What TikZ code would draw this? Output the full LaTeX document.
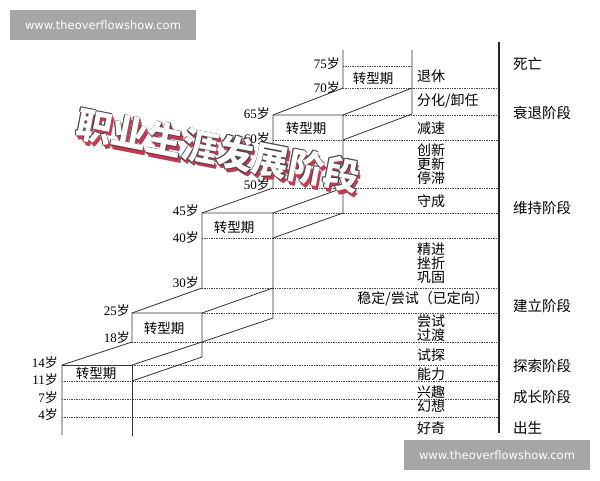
\documentclass[tikz,border=0pt]{standalone}
\usepackage{fontspec}
\setmainfont{Liberation Serif}
\newfontfamily\cjk{Noto Sans CJK SC}
\newfontfamily\wmfont{DejaVu Sans}
\newcommand{\sui}[1]{#1{\cjk 岁}}
\definecolor{rose}{HTML}{C8374F}
\definecolor{rim}{HTML}{4A4A4A}

\begin{document}
\begin{tikzpicture}[x=1pt,y=-1pt]
\tikzset{ line/.style={black!80, line width=0.8pt}, lvl/.style={black!70, densely dotted, line width=0.7pt},
  age/.style={anchor=east, inner sep=0pt, font=\fontsize{13}{13}\selectfont},
  box/.style={inner sep=0pt, font=\cjk\fontsize{13.5}{13.5}\selectfont},
  word/.style={anchor=west, inner sep=0pt, align=center, font=\cjk\fontsize{14}{14}\selectfont},
  stage/.style={anchor=west, inner sep=0pt, font=\cjk\fontsize{14.5}{14.5}\selectfont},
  title/.style={rotate=-11, inner sep=0pt, font=\cjk\bfseries\fontsize{36}{36}\selectfont},
  wm/.style={fill=black!35, text=white, minimum width=186pt, minimum height=30pt, inner sep=0pt, font=\wmfont\fontsize{11.5}{11.5}\selectfont} }

\useasboundingbox (0,0) rectangle (600,480);

%\draw [lightgray, dashed](0,0) grid[step=20] (600,480);

% left edge of the stairs
\coordinate (L0) at (62,435);
\coordinate (L1) at (62,365);
\coordinate (L2) at (132,342);
\coordinate (L3) at (132,313);
\coordinate (L4) at (202,288);
\coordinate (L5) at (202,213);
\coordinate (L6) at (273,188);
\coordinate (L7) at (273,115);
\coordinate (L8) at (343,88);
\coordinate (L9) at (343,50);

% right corners of the fronts
\coordinate (R1) at (132,365);
\coordinate (R3) at (202,313);
\coordinate (R5) at (273,213);
\coordinate (R7) at (343,115);

% ends of the transitions
\coordinate (B1) at (132,381);
\coordinate (B3) at (202,342);
\coordinate (B5) at (273,238);
\coordinate (B7) at (343,140);

% levels
\draw [lvl] (343,66)  -- (412,66);
\draw [lvl] (343,88)  -- (499,88);
\draw [lvl] (343,115) -- (499,115);
\draw [lvl] (273,140) -- (499,140);
\draw [lvl] (273,188) -- (499,188);
\draw [lvl] (273,213) -- (499,213);
\draw [lvl] (202,238) -- (499,238);
\draw [lvl] (202,288) -- (499,288);
\draw [lvl] (202,313) -- (499,313);
\draw [lvl] (132,342) -- (499,342);
\draw [lvl] (132,365) -- (499,365);
\draw [lvl] (62,381)  -- (499,381);
\draw [lvl] (62,399)  -- (499,399);
\draw [lvl] (62,417)  -- (499,417);

% stairs
\draw [line] (L0) -- (L1) -- (L2) -- (L3) -- (L4) -- (L5) -- (L6) -- (L7) -- (L8) -- (L9);

\draw [line] (132,436) -- (R1) -- (L1);
\draw [line] (R1) -- ++(70,-23);
\draw [line] (B1) -- ++(70,-24) -- (R3) -- (L3);

\draw [line] (R3) -- ++(71,-25);
\draw [line] (B3) -- ++(71,-24) -- (R5) -- (L5);

\draw [line] (R5) -- ++(70,-25);
\draw [line] (B5) -- ++(70,-25) -- (R7) -- (L7);

\draw [line] (R7) -- ++(69,-27);
\draw [line] (B7) -- ++(69,-26) -- (412,50);

\draw [black!85, line width=1.2pt] (499,42) -- (499,433);

\node [box] (z1) at (96,373)  {转型期};
\node [box] (z2) at (164,328) {转型期};
\node [box] (z3) at (234,227) {转型期};
\node [box] (z4) at (306,128) {转型期};
\node [box] (z5) at (373,78)  {转型期};

\node [age] (a75) at (340,64)  {\sui{75}};
\node [age] (a70) at (340,88)  {\sui{70}};
\node [age] (a65) at (270,114) {\sui{65}};
\node [age] (a60) at (270,139) {\sui{60}};
\node [age] (a50) at (270,185) {\sui{50}};
\node [age] (a45) at (199,211) {\sui{45}};
\node [age] (a40) at (199,238) {\sui{40}};
\node [age] (a30) at (199,283) {\sui{30}};
\node [age] (a25) at (130,311) {\sui{25}};
\node [age] (a18) at (130,338) {\sui{18}};
\node [age] (a14) at (58,363)  {\sui{14}};
\node [age] (a11) at (58,380)  {\sui{11}};
\node [age] (a7)  at (58,398)  {\sui{7}};
\node [age] (a4)  at (58,415)  {\sui{4}};

\node [word] (w1)  at (417,76)  {退休};
\node [word] (w2)  at (417,101) {分化/卸任};
\node [word] (w3)  at (417,128) {减速};
\node [word] (w4)  at (417,164) {创新\\更新\\停滞};
\node [word] (w5)  at (417,201) {守成};
\node [word] (w6)  at (417,263) {精进\\挫折\\巩固};
\node [word, anchor=east] (w7) at (489,299) {稳定/尝试（已定向）};
\node [word] (w8)  at (417,328) {尝试\\过渡};
\node [word] (w9)  at (417,355) {试探};
\node [word] (w10) at (417,374) {能力};
\node [word] (w11) at (417,399) {兴趣\\幻想};
\node [word] (w12) at (417,428) {好奇};

\node [stage] (s1) at (513,64)  {死亡};
\node [stage] (s2) at (513,113) {衰退阶段};
\node [stage] (s3) at (513,208) {维持阶段};
\node [stage] (s4) at (513,306) {建立阶段};
\node [stage] (s5) at (513,366) {探索阶段};
\node [stage] (s6) at (513,397) {成长阶段};
\node [stage] (s7) at (513,428) {出生};

% title with shadow
\foreach \k in {1,...,3}
  \node [title, text=rose] at (218+0.8*\k,150+1.4*\k) {职业生涯发展阶段};
\foreach \a in {45,135,225,315}
  \node [title, text=rim] at ({218+0.9*cos(\a)},{150+0.9*sin(\a)}) {职业生涯发展阶段};
\node [title, text=white] (title) at (218,150) {职业生涯发展阶段};

\node [wm] (wm1) at (103,25)  {www.theoverflowshow.com};
\node [wm] (wm2) at (497,455) {www.theoverflowshow.com};

\end{tikzpicture}
\end{document}
